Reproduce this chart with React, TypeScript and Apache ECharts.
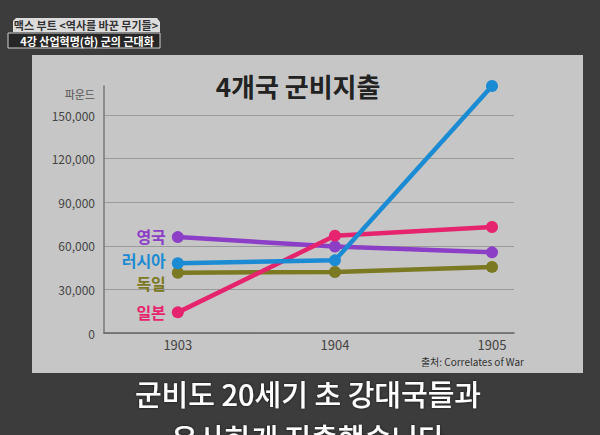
import React, { useEffect, useRef } from "react";
import * as echarts from "echarts";

const years = [1903, 1904, 1905];
const yTicks = [0, 30000, 60000, 90000, 120000, 150000];
const seriesNames = ["독일", "영국", "일본", "러시아"];
const germany = [41500, 42000, 45500];
const britain = [66000, 59500, 55500];
const japan = [14200, 67000, 73000];
const russia = [48000, 50000, 170000];
const seriesValues = [germany, britain, japan, russia];

const colors: Record<string, string> = {
  독일: "#7b7a22",
  영국: "#8c3fc6",
  일본: "#e6246d",
  러시아: "#1b8bd3",
};
const labelOffsets: Record<string, number[]> = {
  독일: [0, 10],
  영국: [0, -1],
  일본: [0, 0],
  러시아: [0, -3],
};

const FONT = "'Noto Sans CJK KR', 'Noto Sans', sans-serif";

export default function App() {
  const ref = useRef<HTMLDivElement>(null);
  useEffect(() => {
    if (!ref.current) return;
    const chart = echarts.init(ref.current, null, { renderer: "svg" });
    const series = seriesNames.map((name, si) => ({
      name,
      type: "line",
      clip: false,
      symbol: "circle",
      symbolSize: 12,
      lineStyle: { width: 4.5, color: colors[name] },
      itemStyle: { color: colors[name] },
      data: seriesValues[si].map((v, i) => {
        const item: any = { value: [years[i], v] };
        if (i === 0) {
          item.label = {
            show: true,
            formatter: name,
            position: "left",
            distance: 6,
            offset: labelOffsets[name],
            color: colors[name],
            fontFamily: FONT,
            fontWeight: "bold",
            fontSize: 16,
            lineHeight: 16,
          };
        }
        return item;
      }),
    }));
    chart.setOption({
      animation: false,
      backgroundColor: "#3c3c3c",
      grid: { left: 104, right: 86, top: 86, bottom: 102 },
      xAxis: {
        type: "value",
        min: 1902.53,
        max: 1905.14,
        splitLine: { show: false },
        axisTick: { show: false },
        axisLine: { show: true, lineStyle: { color: "#666", width: 1.5 } },
        axisLabel: {
          customValues: years,
          formatter: (v: number) => String(v),
          color: "#444",
          fontSize: 13,
          fontFamily: FONT,
          margin: 5,
        },
      },
      yAxis: {
        type: "value",
        min: 0,
        max: 170000,
        interval: 30000,
        axisLine: { show: true, lineStyle: { color: "#777", width: 1.5 } },
        axisTick: { show: false },
        splitLine: { show: true, showMaxLine: false, lineStyle: { color: "#9a9a9a", width: 1 } },
        axisLabel: {
          showMaxLabel: false,
          color: "#444",
          fontSize: 12,
          fontFamily: FONT,
          margin: 9,
          formatter: (v: number) => (yTicks.includes(v) ? v.toLocaleString("en-US") : ""),
        },
      },
      graphic: [
        { type: "rect", z: -10, shape: { x: 32, y: 55, width: 551, height: 318 }, style: { fill: "#c6c6c6" } },
        {
          type: "polygon",
          shape: { points: [[16, 18], [157, 18], [160, 22], [160, 32], [13, 32], [13, 21]] },
          style: { fill: "#dcdcdc" },
        },
        {
          type: "text",
          x: 86,
          y: 25,
          style: { text: "맥스 부트 <역사를 바꾼 무기들>", fill: "#333", font: `bold 11px ${FONT}`, align: "center", verticalAlign: "middle" },
        },
        { type: "rect", shape: { x: 8, y: 33, width: 152, height: 15 }, style: { fill: "#262626", stroke: "#cfcfcf", lineWidth: 1 } },
        {
          type: "text",
          x: 87,
          y: 41,
          style: { text: "4강 산업혁명(하) 군의 근대화", fill: "#fff", font: `bold 11px ${FONT}`, align: "center", verticalAlign: "middle" },
        },
        {
          type: "text",
          x: 298,
          y: 85,
          style: { text: "4개국 군비지출", fill: "#222", font: `bold 26px ${FONT}`, align: "center", verticalAlign: "middle" },
        },
        {
          type: "text",
          x: 95,
          y: 94,
          style: { text: "파운드", fill: "#555", font: `11px ${FONT}`, align: "right", verticalAlign: "middle" },
        },
        {
          type: "text",
          x: 524,
          y: 361,
          style: { text: "출처: Correlates of War", fill: "#333", font: `10px ${FONT}`, align: "right", verticalAlign: "middle" },
        },
        {
          type: "text",
          x: 308,
          y: 393,
          style: {
            text: "군비도 20세기 초 강대국들과",
            fill: "#fff",
            font: `500 29px ${FONT}`,
            align: "center",
            verticalAlign: "middle",
            textShadowColor: "rgba(0,0,0,0.6)",
            textShadowBlur: 3,
          },
        },
        {
          type: "text",
          x: 308,
          y: 437,
          style: {
            text: "유사하게 지출했습니다",
            fill: "#fff",
            font: `500 29px ${FONT}`,
            align: "center",
            verticalAlign: "middle",
            textShadowColor: "rgba(0,0,0,0.6)",
            textShadowBlur: 3,
          },
        },
      ],
      series,
    });
    return () => chart.dispose();
  }, []);
  return <div ref={ref} style={{ position: "fixed", left: 0, top: 0, width: 600, height: 435 }} />;
}
